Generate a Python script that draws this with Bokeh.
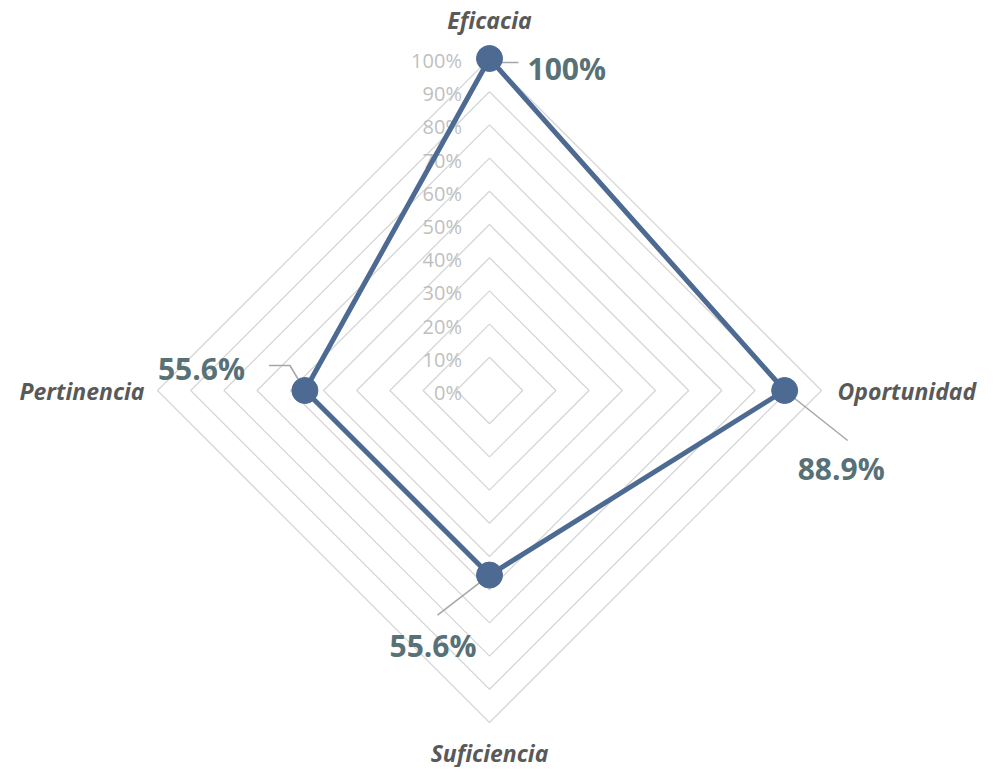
import math
from bokeh.plotting import figure
from bokeh.models import Range1d
from bokeh.core.properties import value
from bokeh.embed import file_html
from bokeh.resources import INLINE

categories = ["Eficacia", "Oportunidad", "Suficiencia", "Pertinencia"]
values = [100.0, 88.9, 55.6, 55.6]
value_labels = ["100%", "88.9%", "55.6%", "55.6%"]
tick_values = [0, 10, 20, 30, 40, 50, 60, 70, 80, 90, 100]
tick_labels = ["0%", "10%", "20%", "30%", "40%", "50%", "60%", "70%", "80%", "90%", "100%"]

# geometry (pixel-to-data scale)
W, H = 987, 767
S = 3.32          # px per percent unit
CX, CY = 489, 390  # centre in figure pixels
def px(x):
    return (x - CX) / S
def py(y):
    return (CY - y) / S

p = figure(width=W, height=H, output_backend="svg", toolbar_location=None,
           x_range=Range1d(px(0), px(W)), y_range=Range1d(py(H), py(0)),
           min_border=0)
p.axis.visible = False
p.grid.visible = False
p.outline_line_color = None
p.background_fill_color = "white"

angles = [math.pi / 2 - i * 2 * math.pi / len(categories) for i in range(len(categories))]

# grid diamonds
for t in tick_values[1:]:
    xs = [t * math.cos(a) for a in angles] + [t * math.cos(angles[0])]
    ys = [t * math.sin(a) for a in angles] + [t * math.sin(angles[0])]
    p.line(xs, ys, line_color="#d6d6d6", line_width=1.3)

# tick labels
p.text(x=[-8.3] * len(tick_values), y=[t for t in tick_values], text=tick_labels,
       text_align="right", text_baseline="middle", text_font=value("Open Sans"),
       text_font_size="20px", text_color="#bfbfbf", y_offset=2)

# data polygon
dx = [v * math.cos(a) for v, a in zip(values, angles)]
dy = [v * math.sin(a) for v, a in zip(values, angles)]
p.line(dx + [dx[0]], dy + [dy[0]], line_color="#4d6a92", line_width=5)

# leader lines (offsets in px relative to points)
leaders = [
    [(0, 0), (13, 4), (29, 4)],
    [(0, 0), (63, 50)],
    [(0, 0), (-52, 40)],
    [(0, 0), (-15, -25), (-36, -25)],
]
for (x0, y0), pts in zip(zip(dx, dy), leaders):
    p.line([x0 + a / S for a, b in pts], [y0 - b / S for a, b in pts],
           line_color="#a6a6a6", line_width=1.5)

p.scatter(dx, dy, size=26, fill_color="#4d6a92", line_color="#4d6a92")

# value labels
lab_off = [(38, 10), (13, 78), (-100, 70), (-147, -22)]
for (x0, y0), (ox, oy), lab in zip(zip(dx, dy), lab_off, value_labels):
    p.text(x=[x0 + ox / S], y=[y0 - oy / S], text=[lab], text_align="left",
           text_baseline="middle", text_font=value("Open Sans"),
           text_font_size="30px", text_color="#587176", text_font_style="bold")

# category labels
cat_pos = [(489, 19, "center"), (837, 390, "left"), (489, 752, "center"), (144, 390, "right")]
for (x, y, al), c in zip(cat_pos, categories):
    p.text(x=[px(x)], y=[py(y)], text=[c], text_align=al, text_baseline="middle",
           text_font=value("Open Sans"), text_font_size="23px", text_font_style="bold italic",
           text_color="#595959")

open("out.html", "w").write(file_html(p, INLINE))
